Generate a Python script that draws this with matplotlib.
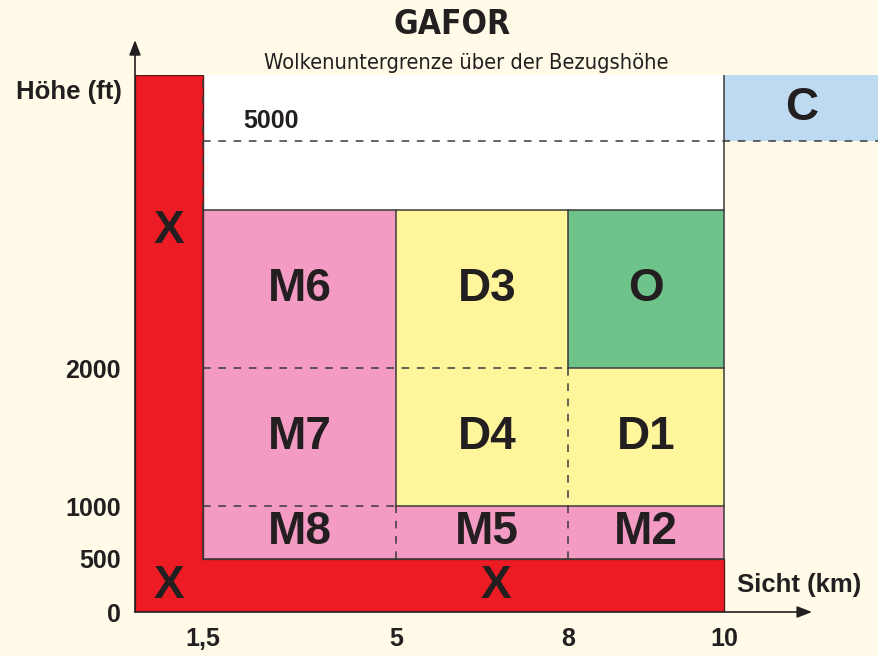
import numpy as np
import matplotlib
matplotlib.use("Agg")
import matplotlib.pyplot as plt
from matplotlib.patches import Polygon

# schematic (non-linear) axes: break points of the drawing
km_breaks = [0, 1.5, 5, 8, 10, 14]
km_px = [0, 68, 261, 433, 589, 744]
ft_breaks = [0, 500, 1000, 2000, 3500, 5000, 7000]
ft_px = [0, 53, 106, 244, 402, 471, 537]

# zones
zone_names = ["M6", "M7", "M8", "D3", "D4", "M5", "O", "D1", "M2"]
zone_x0 = [1.5, 1.5, 1.5, 5, 5, 5, 8, 8, 8]
zone_x1 = [5, 5, 5, 8, 8, 8, 10, 10, 10]
zone_y0 = [2000, 1000, 500, 2000, 1000, 500, 2000, 1000, 500]
zone_y1 = [3500, 2000, 1000, 3500, 2000, 1000, 3500, 2000, 1000]
pink, yellow, green = "#F39BC3", "#FFF59A", "#6DC389"
zone_colors = [pink, pink, pink, yellow, yellow, pink, green, yellow, pink]

# X region (L shape) and its labels
x_shape = [(0, 0), (10, 0), (10, 500), (1.5, 500), (1.5, 7000), (0, 7000)]
x_label_pos = [(0.75, 3300), (0.75, 250), (6.75, 250)]

yticks = [0, 500, 1000, 2000]
xticks = [1.5, 5, 8, 10]
xticklabels = ["1,5", "5", "8", "10"]

bg = "#FFFBE8"
ink = "#231F20"
bold = dict(family=["Liberation Sans", "DejaVu Sans"], fontweight="bold", color=ink)


def fx(v):
    return np.interp(v, km_breaks, km_px)


def fx_inv(v):
    return np.interp(v, km_px, km_breaks)


def fy(v):
    return np.interp(v, ft_breaks, ft_px)


def fy_inv(v):
    return np.interp(v, ft_px, ft_breaks)


fig = plt.figure(figsize=(8.79, 6.56), dpi=100, facecolor=bg)
ax = fig.add_axes([135 / 879, 44 / 656, 744 / 879, 537 / 656])
ax.set_facecolor(bg)
ax.set_xscale("function", functions=(fx, fx_inv))
ax.set_yscale("function", functions=(fy, fy_inv))
ax.set_xlim(0, 14)
ax.set_ylim(0, 7000)
for s in ax.spines.values():
    s.set_visible(False)

# white area and C
ax.bar(1.5, 3500, width=8.5, bottom=3500, align="edge", color="white", lw=0)
ax.bar(10, 2000, width=4, bottom=5000, align="edge", color="#BEDAF0", lw=0)
ax.text(12, 6000, "C", ha="center", va="center", fontsize=33, **bold)

# colored zones
for n, a, b, c, d, col in zip(zone_names, zone_x0, zone_x1, zone_y0, zone_y1, zone_colors):
    ax.bar(a, d - c, width=b - a, bottom=c, align="edge", color=col, lw=0)
    xc = fx_inv((fx(a) + fx(b)) / 2 + (5 if a == 5 else 0))
    ax.text(xc, fy_inv((fy(c) + fy(d)) / 2), n,
            ha="center", va="center", fontsize=33, **bold)

ax.add_patch(Polygon(x_shape, closed=True, facecolor="#ED1C24", edgecolor="#5a1a1a", lw=1.0))
for xx, yy in x_label_pos:
    ax.text(xx, yy, "X", ha="center", va="center", fontsize=33, **bold)

# solid borders
solid = dict(color="#3a3a3a", lw=1.1)
ax.plot([1.5, 10], [3500, 3500], **solid)
ax.plot([1.5, 10], [500, 500], **solid)
ax.plot([1.5, 1.5], [500, 3500], **solid)
ax.plot([10, 10], [500, 7000], **solid)
ax.plot([5, 5], [1000, 3500], **solid)
ax.plot([5, 10], [1000, 1000], **solid)
ax.plot([8, 8], [2000, 3500], **solid)
ax.plot([8, 10], [2000, 2000], **solid)

# dashed borders
dashed = dict(color="#3a3a3a", lw=1.1, ls=(0, (5, 5)))
ax.plot([1.5, 14], [5000, 5000], **dashed)
ax.plot([1.5, 1.5], [3500, 7000], **dashed)
ax.plot([1.5, 8], [2000, 2000], **dashed)
ax.plot([1.5, 5], [1000, 1000], **dashed)
ax.plot([5, 5], [500, 1000], **dashed)
ax.plot([8, 8], [500, 2000], **dashed)

ax.annotate("5000", xy=(1.5, 5000), xytext=(40, 8), textcoords="offset pixels",
            ha="left", va="bottom", fontsize=18, **bold)

# axes with arrows
arrow = dict(arrowstyle="-|>,head_length=0.9,head_width=0.35", color=ink, lw=1.2,
             shrinkA=0, shrinkB=0)
ax.annotate("", xy=(0, 1.065), xytext=(0, 0), xycoords="axes fraction",
            arrowprops=arrow, annotation_clip=False)
ax.annotate("", xy=(0.91, 0), xytext=(0, 0), xycoords="axes fraction",
            arrowprops=arrow, annotation_clip=False)

ax.set_yticks(yticks, [str(t) for t in yticks])
ax.set_xticks(xticks, xticklabels)
ax.tick_params(length=0)
ax.tick_params(axis="y", pad=10)
ax.tick_params(axis="x", pad=11)
for lab in ax.get_xticklabels() + ax.get_yticklabels():
    lab.set_fontsize(18)
    lab.set_fontweight("bold")
    lab.set_color(ink)
    lab.set_family(["Liberation Sans", "DejaVu Sans"])

fig.text(122 / 879, 1 - 92 / 656, "Höhe (ft)", ha="right", va="center", fontsize=18.5, **bold)
fig.text(737 / 879, 1 - 585 / 656, "Sicht (km)", ha="left", va="center", fontsize=18.5, **bold)

fig.text(452 / 879, 1 - 24 / 656, "GAFOR", ha="center", va="center", fontsize=24,
         family="DejaVu Sans", fontstretch="condensed", fontweight="bold", color=ink)
fig.text(466 / 879, 1 - 63 / 656, "Wolkenuntergrenze über der Bezugshöhe", ha="center",
         va="center", fontsize=15.7, family="DejaVu Sans", fontstretch="condensed", color=ink)

fig.savefig("out.png", dpi=100, facecolor=bg)
